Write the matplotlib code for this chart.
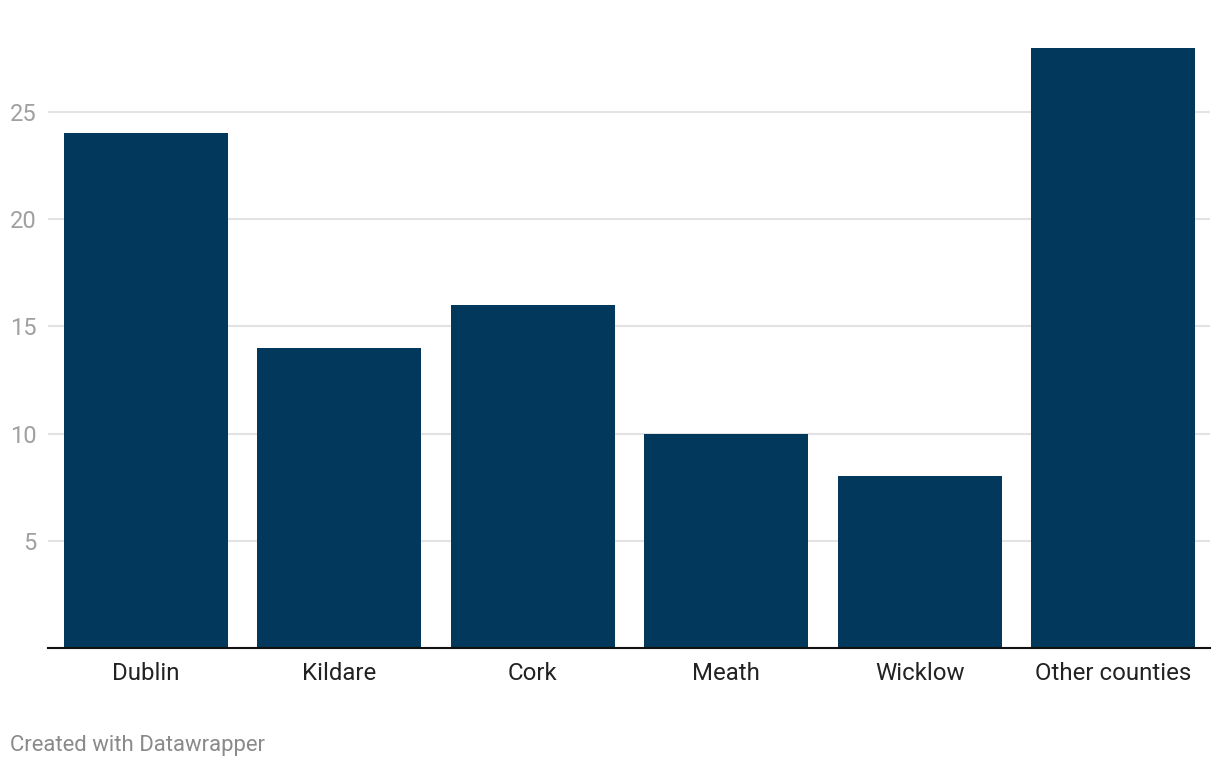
import matplotlib
matplotlib.use("Agg")
import matplotlib.pyplot as plt

categories = ["Dublin", "Kildare", "Cork", "Meath", "Wicklow", "Other counties"]
values = [24, 14, 16, 10, 8, 28]
yticks = [5, 10, 15, 20, 25]

plt.rcParams['font.family'] = ['Roboto', 'DejaVu Sans']

W, H = 1220, 768
fig = plt.figure(figsize=(W / 100, H / 100), dpi=100)
left, right, top, bottom = 48, 1210, 30, 648
ax = fig.add_axes([left / W, (H - bottom) / H, (right - left) / W, (bottom - top) / H])

x = list(range(len(categories)))
ax.bar(x, values, width=0.8475, color="#01385c", zorder=3)

ax.set_xlim(-0.506, 5.499)
ax.set_ylim(0, (bottom - top) / 21.44)
ax.set_yticks(yticks)
ax.set_yticklabels([str(t) for t in yticks])
ax.yaxis.grid(True, color="#e3e3e3", linewidth=1.5, zorder=0)
ax.tick_params(axis='y', length=0, pad=8, labelsize=17, labelcolor="#a0a0a0")
ax.set_xticks(x)
ax.set_xticklabels(categories)
ax.tick_params(axis='x', length=0, pad=10, labelsize=17.3, labelcolor="#222222")

for s in ["top", "right", "left"]:
    ax.spines[s].set_visible(False)
ax.spines["bottom"].set_color("#111111")
ax.spines["bottom"].set_linewidth(1.5)
ax.spines["bottom"].set_zorder(4)

fig.text(10 / W, 1 - 745 / H, "Created with Datawrapper", fontsize=15.9, color="#8a8a8a",
         ha="left", va="center")

fig.savefig("out.png", dpi=100)
